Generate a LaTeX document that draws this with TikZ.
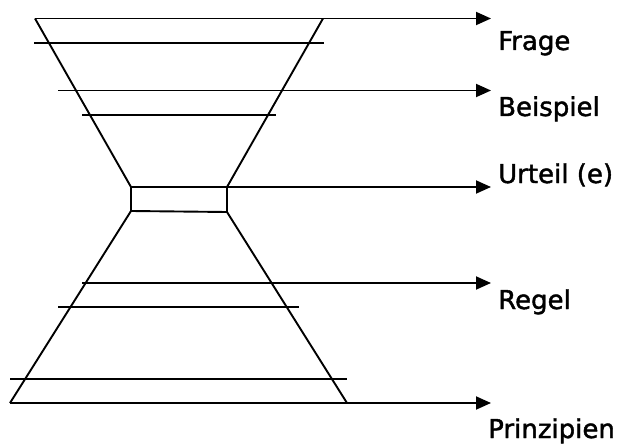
\documentclass[tikz,border=0pt]{standalone}
\usepackage{fontspec}
\setmainfont{DejaVu Sans}[BoldFont=DejaVu Sans, BoldFeatures={FakeBold=1.6}]
\usepackage{tikz}
\usetikzlibrary{arrows.meta}

\tikzset{
  edge/.style={color=black, line width=1.9pt},
  pointer/.style={color=black, line width=1.9pt, -{Triangle[length=15pt,width=13pt]}},
  label/.style={anchor=base west, inner sep=0pt, font=\fontsize{26}{31}\selectfont\bfseries}
}

\begin{document}
\begin{tikzpicture}[x=1pt, y=-1pt]
\useasboundingbox (0,0) rectangle (619,444);

% upper funnel
\coordinate (tl) at (35,18.5);
\coordinate (tr) at (323,18.5);
\coordinate (ml) at (131,187);
\coordinate (mr) at (227,187);
\draw[edge] (tl)--(ml);
\draw[edge] (tr)--(mr);

% middle box
\coordinate (nl) at (131,211);
\coordinate (nr) at (227,212);
\draw[edge] (ml)--(nl)--(nr)--(mr);

% lower funnel
\coordinate (bl) at (10,403);
\coordinate (br) at (347,403);
\draw[edge] (nl)--(bl);
\draw[edge] (nr)--(br);

% labels
\node[label] (frage) at (498,50) {Frage};
\node[label] (beispiel) at (498,116) {Beispiel};
\node[label] (urteil) at (498,183) {Urteil (e)};
\node[label] (regel) at (498,309) {Regel};
\node[label] (prinzipien) at (488,438) {Prinzipien};

% arrows
\coordinate (a1) at (491,18.5);
\coordinate (a2) at (491,90.5);
\coordinate (a3) at (491,187);
\coordinate (a4) at (491,283);
\coordinate (a5) at (491,403);
\draw[pointer] (tl)--(a1);
\draw[pointer] (58,90.5)--(a2);
\draw[pointer] (ml)--(a3);
\draw[pointer] (82,283)--(a4);
\draw[pointer] (bl)--(a5);

% cross lines
\draw[edge] (34,43)--(324,43);
\draw[edge] (82,115)--(276,115);
\draw[edge] (58,307)--(299,307);
\draw[edge] (10,379)--(347,379);
\end{tikzpicture}
\end{document}
